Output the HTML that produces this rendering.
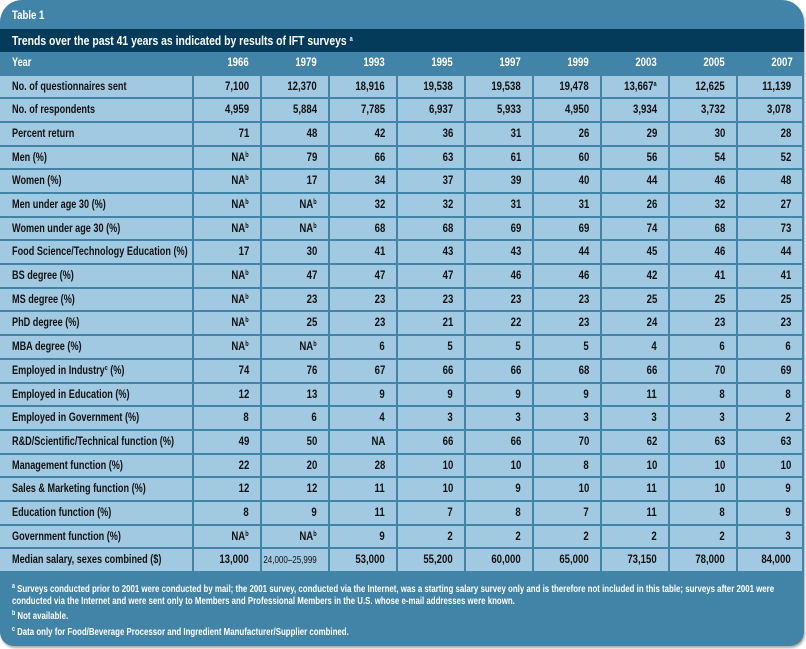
<!DOCTYPE html>
<html><head><meta charset="utf-8">
<style>
html,body{margin:0;padding:0;background:#fff;}
body{width:806px;height:649px;position:relative;overflow:hidden;font-family:"Liberation Sans Narrow","Liberation Sans",sans-serif;font-weight:bold;}
#frame{position:absolute;left:0;top:0;width:804px;height:646px;background:#4283a8;border-radius:22px 22px 14px 14px;box-shadow:1px 2px 2px #aaa;overflow:hidden;}
#band{position:absolute;left:0;top:29px;width:804px;height:23px;background:#043a5a;}
.t{position:absolute;color:#fff;white-space:nowrap;}
.cell{position:absolute;height:21.7px;background:#a2c9e2;overflow:hidden;}
.hd{background:#4283a8;}
.txt{position:absolute;top:0;line-height:21.7px;font-size:12px;color:#111;white-space:nowrap;display:inline-block;}
.hd .txt{color:#fff;}
.lab{left:12px;transform:scaleX(0.76);transform-origin:left center;}
.num{right:11px;transform:scaleX(0.8);transform-origin:right center;}
sup{font-size:7px;vertical-align:4px;line-height:0;}
.fn{position:absolute;left:12px;color:#fff;font-size:10.5px;line-height:12px;white-space:nowrap;transform:scaleX(0.75);transform-origin:left top;}
</style></head><body>
<div id="frame">
<div class="t" style="left:12px;top:8px;font-size:12px;transform:scaleX(0.8);transform-origin:left;">Table 1</div>
<div id="band"></div>
<div class="t" style="left:12px;top:33px;font-size:13px;transform:scaleX(0.8);transform-origin:left;">Trends over the past 41 years as indicated by results of IFT surveys <sup>a</sup></div>
<div id="grid"></div>
<div class="fn" style="top:583px;"><sup>a</sup> Surveys conducted prior to 2001 were conducted by mail; the 2001 survey, conducted via the Internet, was a starting salary survey only and is therefore not included in this table; surveys after 2001 were<br>conducted via the Internet and were sent only to Members and Professional Members in the U.S. whose e-mail addresses were known.</div>
<div class="fn" style="top:610px;"><sup>b</sup> Not available.</div>
<div class="fn" style="top:626px;"><sup>c</sup> Data only for Food/Beverage Processor and Ingredient Manufacturer/Supplier combined.</div>
</div>
<script>
const years = ["1966","1979","1993","1995","1997","1999","2003","2005","2007"];
const rowLabels = ["No. of questionnaires sent","No. of respondents","Percent return","Men (%)","Women (%)","Men under age 30 (%)","Women under age 30 (%)","Food Science/Technology Education (%)","BS degree (%)","MS degree (%)","PhD degree (%)","MBA degree (%)","Employed in Industry<sup>c</sup> (%)","Employed in Education (%)","Employed in Government (%)","R&amp;D/Scientific/Technical function (%)","Management function (%)","Sales &amp; Marketing function (%)","Education function (%)","Government function (%)","Median salary, sexes combined ($)"];
const NB = "NA<sup>b</sup>";
const rowValues = [
["7,100","12,370","18,916","19,538","19,538","19,478","13,667<sup>a</sup>","12,625","11,139"],
["4,959","5,884","7,785","6,937","5,933","4,950","3,934","3,732","3,078"],
["71","48","42","36","31","26","29","30","28"],
[NB,"79","66","63","61","60","56","54","52"],
[NB,"17","34","37","39","40","44","46","48"],
[NB,NB,"32","32","31","31","26","32","27"],
[NB,NB,"68","68","69","69","74","68","73"],
["17","30","41","43","43","44","45","46","44"],
[NB,"47","47","47","46","46","42","41","41"],
[NB,"23","23","23","23","23","25","25","25"],
[NB,"25","23","21","22","23","24","23","23"],
[NB,NB,"6","5","5","5","4","6","6"],
["74","76","67","66","66","68","66","70","69"],
["12","13","9","9","9","9","11","8","8"],
["8","6","4","3","3","3","3","3","2"],
["49","50","NA","66","66","70","62","63","63"],
["22","20","28","10","10","8","10","10","10"],
["12","12","11","10","9","10","11","10","9"],
["8","9","11","7","8","7","11","8","9"],
[NB,NB,"9","2","2","2","2","2","3"],
["13,000","<span style='font-size:10px;font-weight:normal'>24,000–25,999</span>","53,000","55,200","60,000","65,000","73,150","78,000","84,000"]
];
const grid = document.getElementById('grid');
const top0 = 52, pitch = 23.68, firstW = 192, colW = 68;
function addCell(x, y, w, html, cls, isHead, name){
  const c = document.createElement('div');
  c.className = 'cell' + (isHead ? ' hd' : '');
  c.style.left = x + 'px'; c.style.top = y + 'px'; c.style.width = w + 'px';
  
  
  const s = document.createElement('span');
  s.className = 'txt ' + cls;
  s.innerHTML = html;
  c.appendChild(s);
  grid.appendChild(c);
}
function colX(i){ return firstW + 2 + i*colW; }
addCell(0, top0, firstW, "Year", "lab", true, 'header-year');
years.forEach((y,i)=>{ addCell(colX(i), top0, colW-2, y, "num", true, 'header-' + y); });
rowLabels.forEach((lab,r)=>{
  const y = top0 + (r+1)*pitch;
  addCell(0, y, firstW, lab, "lab", false, 'row-label');
  rowValues[r].forEach((v,i)=>{ addCell(colX(i), y, (i===8?colW-4:colW-2), v, "num", false, 'row-value'); });
});
</script>
</body></html>
